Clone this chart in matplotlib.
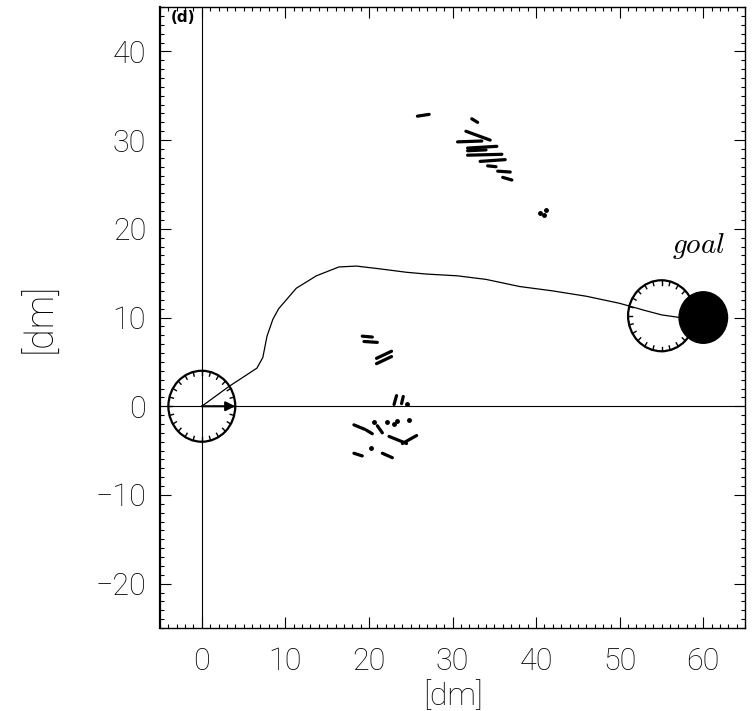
import numpy as np
import matplotlib
matplotlib.use('Agg')
import matplotlib.pyplot as plt
from matplotlib.patches import Circle
from matplotlib.ticker import MultipleLocator

plt.rcParams['font.family'] = ['Roboto', 'DejaVu Sans']
plt.rcParams['mathtext.fontset'] = 'cm'

# robot trajectory [dm]
path_x = [0, 3.2, 6.6, 7.3, 7.8, 8.5, 9.2, 11.3, 13.7, 16.4, 18.5, 21.2, 24.5, 26.9,
          30.6, 34, 38, 42, 46, 50, 53, 55, 57.2]
path_y = [0, 2.2, 4.3, 5.5, 7.9, 9.8, 11.0, 13.3, 14.7, 15.7, 15.8, 15.5, 15.1, 14.9,
          14.7, 14.3, 13.5, 13.0, 12.4, 11.6, 10.8, 10.3, 10.0]

# robot pose at start and end, goal position
start_xy = (0.0, 0.0)
end_xy = (55.0, 10.2)
goal_xy = (60.0, 10.0)
robot_r = 4.0
goal_r = 2.9

# sonar hits drawn as short strokes (x0, y0, x1, y1)
seg_x0 = [25.8, 32.3, 31.6, 30.6, 31.8, 31.8, 31.8, 33.3, 34.2, 35.4, 36.0,
          19.2, 19.4, 20.9, 20.9, 23.0, 23.9,
          18.2, 19.7, 21.0, 22.4, 24.0, 18.2, 21.6]
seg_y0 = [32.7, 32.4, 31.0, 29.8, 29.1, 28.8, 28.3, 27.6, 27.1, 26.5, 25.8,
          7.9, 7.3, 5.4, 4.8, 0.2, 0.3,
          -2.1, -2.7, -2.2, -3.4, -4.2, -5.3, -5.3]
seg_x1 = [27.2, 33.0, 34.5, 33.5, 35.3, 34.0, 35.9, 36.3, 35.2, 36.9, 37.1,
          20.4, 21.0, 22.7, 22.7, 23.3, 24.1,
          19.5, 20.4, 21.6, 24.5, 25.7, 19.2, 22.8]
seg_y1 = [32.9, 32.0, 30.0, 29.9, 29.3, 28.9, 28.4, 27.8, 27.0, 26.4, 25.5,
          7.8, 7.2, 6.2, 5.6, 1.2, 1.1,
          -2.6, -3.1, -3.0, -4.2, -3.3, -5.6, -5.8]

# isolated hit points
dot_x = [40.5, 41.2, 40.9, 24.5, 20.6, 22.1, 23.4, 24.8, 20.3, 23.0]
dot_y = [21.8, 22.1, 21.6, 0.3, -1.8, -1.8, -1.7, -1.6, -4.7, -2.0]

fig = plt.figure(figsize=(7.52, 7.11), dpi=100)
ax = fig.add_axes([0.2128, 0.1167, 0.778, 0.8734])

ax.set_xlim(-5, 65)
ax.set_ylim(-25, 45)

# coordinate axes through the origin
ax.axvline(0, color='black', lw=0.8)
ax.axhline(0, color='black', lw=0.8)

ax.plot(path_x, path_y, color='black', lw=0.9)

for x0, y0, x1, y1 in zip(seg_x0, seg_y0, seg_x1, seg_y1):
    ax.plot([x0, x1], [y0, y1], color='black', lw=2.3, solid_capstyle='round')
ax.plot(dot_x, dot_y, 'o', color='black', ms=2.5)


def robot(cx, cy, r):
    ax.add_patch(Circle((cx, cy), r, fill=False, ec='black', lw=1.6))
    ang = np.radians(np.arange(0, 360, 15))
    for a in ang:
        ax.plot([cx + r * np.cos(a), cx + 0.88 * r * np.cos(a)],
                [cy + r * np.sin(a), cy + 0.88 * r * np.sin(a)],
                color='black', lw=1.0)


robot(*start_xy, robot_r)
robot(*end_xy, robot_r)
ax.annotate('', xy=(start_xy[0] + robot_r, start_xy[1]), xytext=start_xy,
            arrowprops=dict(arrowstyle='-|>', lw=1.5, color='black',
                            mutation_scale=14, shrinkA=0, shrinkB=0))

ax.add_patch(Circle(goal_xy, goal_r, color='black'))
ax.text(59.4, 18.1, '$goal$', fontsize=21, ha='center', va='center')
ax.text(-2.2, 43.8, '(d)', fontsize=11, fontweight='bold', ha='center', va='center',
        family='DejaVu Sans')

ax.xaxis.set_major_locator(MultipleLocator(10))
ax.xaxis.set_minor_locator(MultipleLocator(1))
ax.yaxis.set_major_locator(MultipleLocator(10))
ax.yaxis.set_minor_locator(MultipleLocator(1))
ax.tick_params(which='both', direction='in', top=True, right=True, width=0.8)
ax.tick_params(which='major', length=8, labelsize=22)
ax.tick_params(axis='x', which='major', pad=14)
ax.tick_params(axis='y', which='major', pad=10)
ax.tick_params(which='minor', length=3)
for lab in ax.get_xticklabels() + ax.get_yticklabels():
    lab.set_fontweight('light')
for sp in ax.spines.values():
    sp.set_linewidth(1.0)
ax.spines['left'].set_linewidth(1.6)

ax.set_ylabel('[dm]', fontsize=27, fontweight='light', labelpad=26)
fig.text(0.602, 0.0, '[dm]', fontsize=23, fontweight='light', ha='center', va='bottom')

fig.savefig('out.png', dpi=100)
